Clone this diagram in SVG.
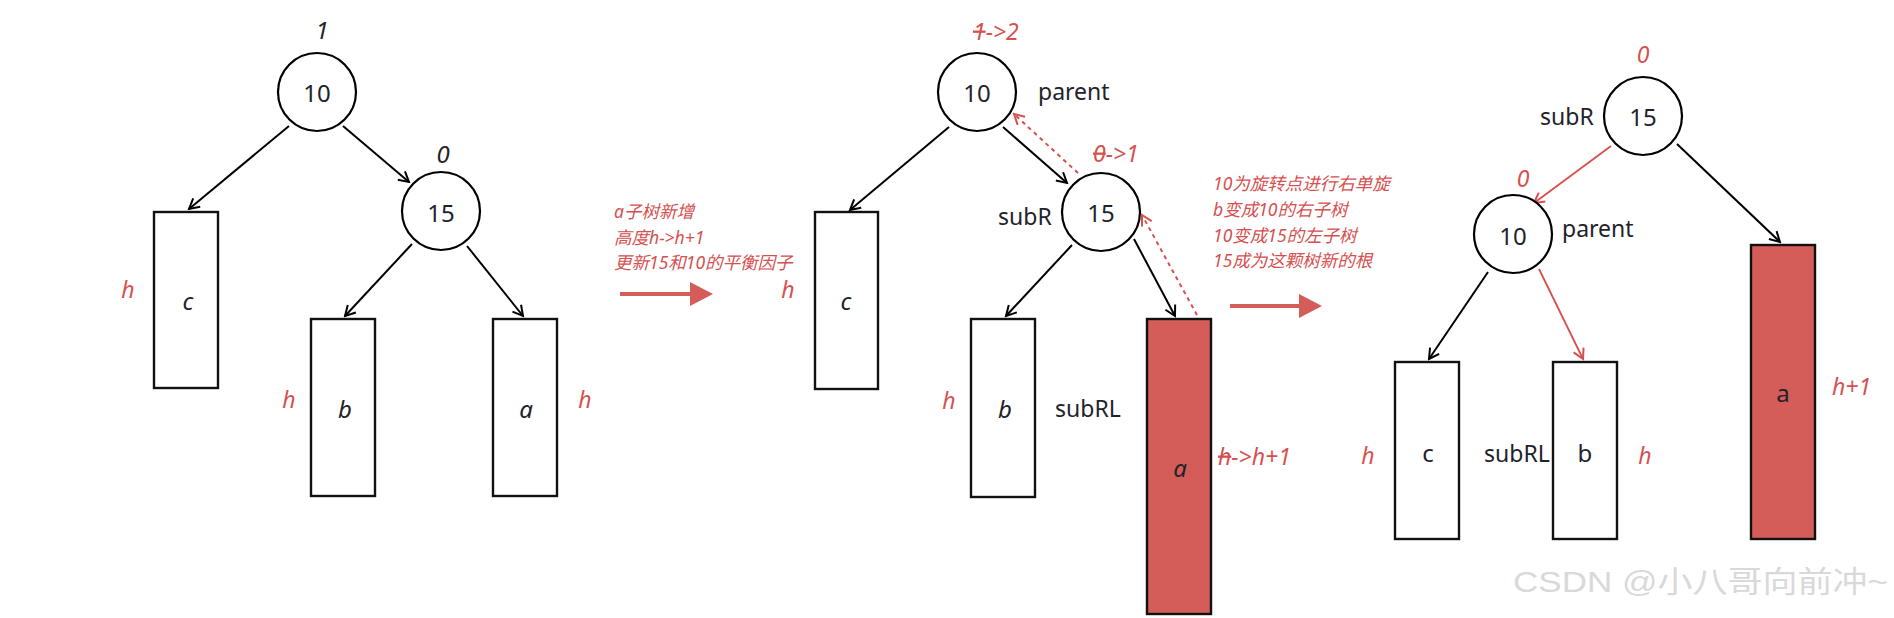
<svg xmlns="http://www.w3.org/2000/svg" width="1894" height="618" viewBox="0 0 1894 618">
<style>
text{font-family:"Noto Sans","Noto Sans CJK SC",sans-serif}
.num{font-size:24px;fill:#1f2329;text-anchor:middle}
.lbl{font-size:23px;fill:#1f2329}
.it{font-size:24px;font-style:italic;fill:#1f2329;text-anchor:middle}
.rit{font-size:23px;font-style:italic;fill:#d6504f;text-anchor:middle}
.rl{font-size:23px;font-style:italic;fill:#d6504f}
.note{font-size:17.5px;font-style:italic;fill:#d6504f}
.pl{font-size:24px;fill:#1f2329;text-anchor:middle}
.node{fill:#fff;stroke:#000;stroke-width:2.2}
.box{fill:#fff;stroke:#111;stroke-width:2.4}
.rbox{fill:#d45d5a;stroke:#111;stroke-width:2.4}
.e{stroke:#000;stroke-width:2;fill:none;marker-end:url(#ah)}
.er{stroke:#d6504f;stroke-width:1.8;fill:none;marker-end:url(#ahr)}
.ed{stroke:#d6504f;stroke-width:2;fill:none;stroke-dasharray:4 4;marker-end:url(#ahr)}
.big{stroke:#d45d5a;stroke-width:4;fill:none}
.wm{font-family:"Liberation Sans","Noto Sans CJK SC",sans-serif;font-size:30px;fill:#d9d9d9}
</style>
<defs>
<marker id="ah" markerUnits="userSpaceOnUse" viewBox="0 0 14 14" refX="12" refY="7" markerWidth="14" markerHeight="14" orient="auto">
<path d="M2,1.5 L12,7 L2,12.5" fill="none" stroke="#000" stroke-width="2"/>
</marker>
<marker id="ahr" markerUnits="userSpaceOnUse" viewBox="0 0 14 14" refX="12" refY="7" markerWidth="14" markerHeight="14" orient="auto">
<path d="M2,1.5 L12,7 L2,12.5" fill="none" stroke="#d6504f" stroke-width="2"/>
</marker>
</defs>
<rect width="1894" height="618" fill="#fff"/>

<g id="connectors">
<!-- tree 1 -->
<line class="e" x1="289" y1="126" x2="189" y2="209"/>
<line class="e" x1="343" y1="126" x2="409" y2="182"/>
<line class="e" x1="412" y1="244" x2="345" y2="316"/>
<line class="e" x1="467" y1="246" x2="523" y2="316"/>
<!-- tree 2 -->
<line class="e" x1="949" y1="127" x2="850" y2="210"/>
<line class="e" x1="1003" y1="127" x2="1067" y2="183"/>
<line class="e" x1="1072" y1="245" x2="1006" y2="316"/>
<line class="e" x1="1134" y1="239" x2="1175" y2="316"/>
<line class="ed" x1="1078" y1="173" x2="1014" y2="114"/>
<line class="ed" x1="1197" y1="315" x2="1142" y2="215"/>
<!-- tree 3 -->
<line class="er" x1="1611" y1="146" x2="1534" y2="203"/>
<line class="e" x1="1677" y1="144" x2="1780" y2="242"/>
<line class="e" x1="1488" y1="272" x2="1429" y2="359"/>
<line class="er" x1="1539" y1="269" x2="1583" y2="359"/>
</g>

<g id="step-arrow-1">
<line class="big" x1="620" y1="294" x2="692" y2="294"/>
<polygon points="690,282 713,294 690,306" fill="#d45d5a"/>
</g>
<g id="step-arrow-2">
<line class="big" x1="1230" y1="306" x2="1302" y2="306"/>
<polygon points="1299,294 1322,306 1299,318" fill="#d45d5a"/>
</g>

<!-- Tree 1 -->
<g id="t1-n10"><circle class="node" cx="317" cy="92" r="39"/><text class="num" x="317" y="102">10</text></g>
<g id="t1-bf10"><text class="it" x="322" y="39">1</text></g>
<g id="t1-n15"><circle class="node" cx="441" cy="211" r="39"/><text class="num" x="441" y="222">15</text></g>
<g id="t1-bf15"><text class="it" x="443" y="163">0</text></g>
<g id="t1-c"><rect class="box" x="154" y="212" width="64" height="176"/><text class="it" x="188" y="310">c</text></g>
<g id="t1-hc"><text class="rit" x="128" y="298">h</text></g>
<g id="t1-b"><rect class="box" x="311" y="319" width="64" height="177"/><text class="it" x="345" y="418">b</text></g>
<g id="t1-hb"><text class="rit" x="289" y="408">h</text></g>
<g id="t1-a"><rect class="box" x="493" y="319" width="64" height="177"/><text class="it" x="526" y="418">a</text></g>
<g id="t1-ha"><text class="rit" x="585" y="408">h</text></g>

<g id="note1">
<text class="note" x="614" y="218">a子树新增</text>
<text class="note" x="614" y="244">高度h-&gt;h+1</text>
<text class="note" x="614" y="269">更新15和10的平衡因子</text>
</g>

<!-- Tree 2 -->
<g id="t2-n10"><circle class="node" cx="977" cy="92" r="39"/><text class="num" x="977" y="102">10</text></g>
<g id="t2-bf10"><text class="rl" x="973" y="40"><tspan text-decoration="line-through">1</tspan>-&gt;2</text></g>
<g id="t2-parent"><text class="lbl" x="1038" y="100">parent</text></g>
<g id="t2-n15"><circle class="node" cx="1101" cy="212" r="39"/><text class="num" x="1101" y="222">15</text></g>
<g id="t2-bf15"><text class="rl" x="1093" y="162"><tspan text-decoration="line-through">0</tspan>-&gt;1</text></g>
<g id="t2-subR"><text class="lbl" x="998" y="225">subR</text></g>
<g id="t2-c"><rect class="box" x="815" y="212" width="63" height="177"/><text class="it" x="846" y="310">c</text></g>
<g id="t2-hc"><text class="rit" x="788" y="298">h</text></g>
<g id="t2-b"><rect class="box" x="971" y="319" width="64" height="178"/><text class="it" x="1005" y="418">b</text></g>
<g id="t2-hb"><text class="rit" x="949" y="409">h</text></g>
<g id="t2-subRL"><text class="lbl" x="1055" y="417">subRL</text></g>
<g id="t2-a"><rect class="rbox" x="1147" y="319" width="64" height="295"/><text class="it" x="1180" y="477">a</text></g>
<g id="t2-ha"><text class="rl" x="1218" y="465"><tspan text-decoration="line-through">h</tspan>-&gt;h+1</text></g>

<g id="note2">
<text class="note" x="1213" y="190">10为旋转点进行右单旋</text>
<text class="note" x="1213" y="216">b变成10的右子树</text>
<text class="note" x="1213" y="242">10变成15的左子树</text>
<text class="note" x="1213" y="267">15成为这颗树新的根</text>
</g>

<!-- Tree 3 -->
<g id="t3-n15"><circle class="node" cx="1643" cy="116" r="39"/><text class="num" x="1643" y="126">15</text></g>
<g id="t3-bf15"><text class="rit" x="1643" y="63">0</text></g>
<g id="t3-subR"><text class="lbl" x="1540" y="125">subR</text></g>
<g id="t3-n10"><circle class="node" cx="1513" cy="234" r="39"/><text class="num" x="1513" y="245">10</text></g>
<g id="t3-bf10"><text class="rit" x="1523" y="187">0</text></g>
<g id="t3-parent"><text class="lbl" x="1562" y="237">parent</text></g>
<g id="t3-c"><rect class="box" x="1395" y="362" width="64" height="177"/><text class="pl" x="1428" y="462">c</text></g>
<g id="t3-hc"><text class="rit" x="1368" y="464">h</text></g>
<g id="t3-subRL"><text class="lbl" x="1484" y="462">subRL</text></g>
<g id="t3-b"><rect class="box" x="1553" y="362" width="64" height="177"/><text class="pl" x="1585" y="462">b</text></g>
<g id="t3-hb"><text class="rit" x="1645" y="464">h</text></g>
<g id="t3-a"><rect class="rbox" x="1751" y="245" width="64" height="294"/><text class="pl" x="1783" y="402">a</text></g>
<g id="t3-ha"><text class="rl" x="1832" y="395">h+1</text></g>

<g id="watermark"><text class="wm" x="1513" y="592" textLength="375" lengthAdjust="spacingAndGlyphs">CSDN @小八哥向前冲~</text></g>
</svg>
